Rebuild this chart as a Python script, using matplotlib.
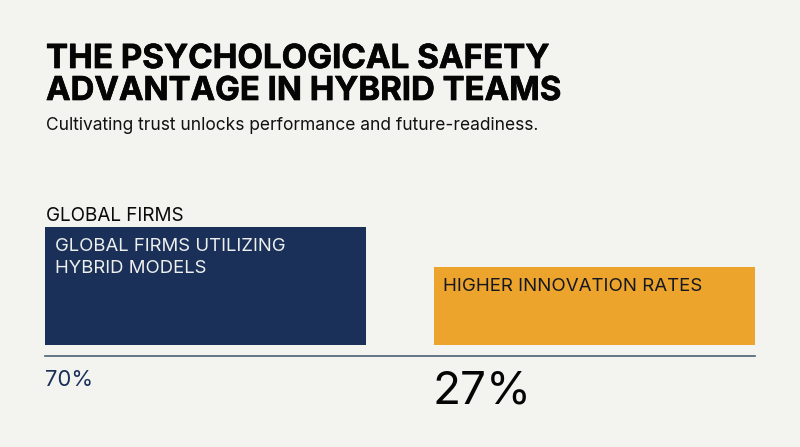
import matplotlib
matplotlib.use("Agg")
import matplotlib.pyplot as plt
import matplotlib.patheffects as pe

categories = ["GLOBAL FIRMS UTILIZING\nHYBRID MODELS", "HIGHER INNOVATION RATES"]
values = [70, 27]
value_labels = ["70%", "27%"]
colors = ["#1a3059", "#eda42c"]
BG = "#f3f4ef"
W, H = 800, 447

plt.rcParams['font.family'] = ['Inter', 'DejaVu Sans']
fig = plt.figure(figsize=(8, 4.47), dpi=100, facecolor=BG)

def tx(x, y, s, **k):
    return fig.text(x / W, 1 - y / H, s, **k)

heavy = [pe.withStroke(linewidth=0.5, foreground='#050505')]
tx(46, 68, "THE PSYCHOLOGICAL SAFETY", fontsize=23.85, fontweight='bold', color='#050505', va='baseline', path_effects=heavy)
tx(46, 100, "ADVANTAGE IN HYBRID TEAMS", fontsize=23.7, fontweight='bold', color='#050505', va='baseline', path_effects=heavy)
tx(46, 130, "Cultivating trust unlocks performance and future-readiness.", fontsize=12.5, color='#111111', va='baseline')
tx(46, 221, "GLOBAL FIRMS", fontsize=13.6, color='#0a0a0a', va='baseline')

ax1 = fig.add_axes([45 / W, 1 - 345 / H, 321 / W, 118 / H])
ax1.bar([0], [values[0]], width=1, color=colors[0])
ax1.set_xlim(-.5, .5); ax1.set_ylim(0, values[0]); ax1.axis('off')

ax2 = fig.add_axes([434 / W, 1 - 345 / H, 321 / W, 78 / H])
ax2.bar([0], [values[1]], width=1, color=colors[1])
ax2.set_xlim(-.5, .5); ax2.set_ylim(0, values[1]); ax2.axis('off')

l1, l2 = categories[0].split("\n")
tx(55, 251.5, l1, fontsize=13.35, color='#eef0ee', va='baseline')
tx(55, 273, l2, fontsize=13.35, color='#eef0ee', va='baseline')
tx(443, 291, categories[1], fontsize=13.5, color='#15191f', va='baseline')

fig.add_artist(plt.Line2D([45 / W, 755 / W], [1 - 355.5 / H] * 2, color='#4c6075', lw=1.2))

tx(45, 385.5, value_labels[0], fontsize=15.9, color='#1a3059', va='baseline')
tx(433, 403, value_labels[1], fontsize=33, color='#050505', va='baseline')

fig.savefig("out.png", dpi=100, facecolor=BG)
